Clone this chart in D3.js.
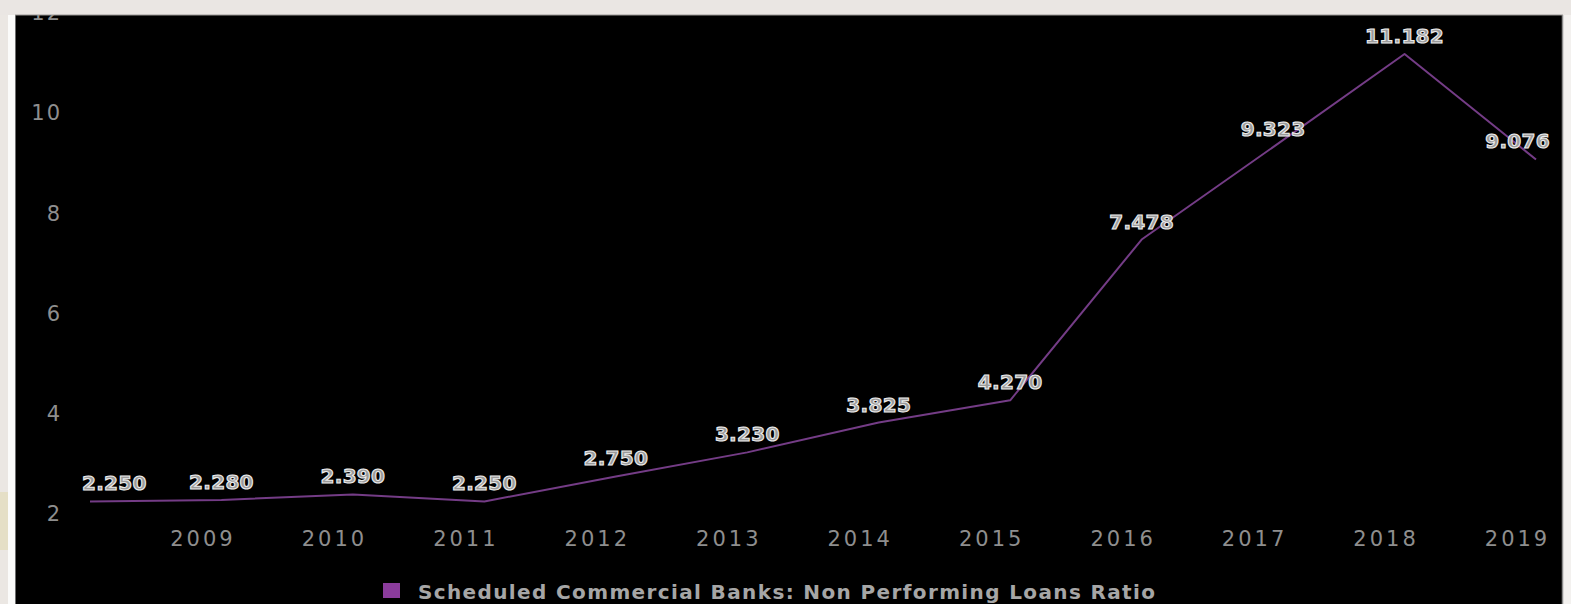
<!DOCTYPE html>
<html>
<head>
<meta charset="utf-8">
<script src="https://cdn.jsdelivr.net/npm/d3@7/dist/d3.min.js"></script>
<style>
  html, body { margin: 0; padding: 0; background: #f3f1ef; }
  svg { display: block; }
</style>
</head>
<body>
<svg id="chart" width="1571" height="604"></svg>
<script>
// Scheduled Commercial Banks: Non Performing Loans Ratio (%)
const years = [2008, 2009, 2010, 2011, 2012, 2013, 2014, 2015, 2016, 2017, 2018, 2019];
const npaRatio = [2.250, 2.280, 2.390, 2.250, 2.750, 3.230, 3.825, 4.270, 7.478, 9.323, 11.182, 9.076];
const valueLabels = ["2.250", "2.280", "2.390", "2.250", "2.750", "3.230", "3.825", "4.270", "7.478", "9.323", "11.182", "9.076"];
const yTickValues = [2, 4, 6, 8, 10, 12];
const xTickYears = [2009, 2010, 2011, 2012, 2013, 2014, 2015, 2016, 2017, 2018, 2019];
const seriesName = "Scheduled Commercial Banks: Non Performing Loans Ratio";

const W = 1571, H = 604;
const svg = d3.select("#chart");

// page frame around the dark panel
svg.append("rect").attr("x", 0).attr("y", 0).attr("width", W).attr("height", H).attr("fill", "#f3f1ef");
svg.append("rect").attr("x", 0).attr("y", 0).attr("width", 8).attr("height", H).attr("fill", "#ebe7e3");
svg.append("rect").attr("x", 0).attr("y", 492).attr("width", 8).attr("height", 58).attr("fill", "#e5dfc6");
svg.append("rect").attr("x", 8).attr("y", 15).attr("width", 8).attr("height", H).attr("fill", "#fbfbfa");

// dark panel
const panel = { left: 16, top: 15, right: 1562, bottom: H };
svg.append("rect")
  .attr("x", panel.left).attr("y", panel.top)
  .attr("width", panel.right - panel.left).attr("height", panel.bottom - panel.top)
  .attr("fill", "#000");
svg.append("line").attr("x1", 15.5).attr("x2", 15.5).attr("y1", 15).attr("y2", H)
  .attr("stroke", "#6d6d6d").attr("stroke-width", 1);
svg.append("line").attr("x1", 1562.5).attr("x2", 1562.5).attr("y1", 15).attr("y2", H)
  .attr("stroke", "#8a8a8a").attr("stroke-width", 1.5);

const g = svg.append("g");

const x = d3.scaleLinear().domain([2008, 2019]).range([90, 1536]);
const y = d3.scaleLinear().domain([2, 12]).range([514, 13]);

// y axis labels
const yAxis = g.append("g")
  .attr("transform", "translate(62,0)")
  .call(d3.axisLeft(y).tickValues(yTickValues).tickSize(0).tickPadding(0).tickFormat(d3.format("d")));
yAxis.select(".domain").remove();
yAxis.selectAll("text")
  .attr("fill", "#8e8e8e")
  .attr("font-family", "DejaVu Sans, sans-serif")
  .attr("font-size", 21)
  .attr("letter-spacing", 2);

// x axis labels
const xAxis = g.append("g")
  .attr("transform", "translate(0,531)")
  .call(d3.axisBottom(x).tickValues(xTickYears).tickSize(0).tickPadding(0).tickFormat(d3.format("d")));
xAxis.select(".domain").remove();
xAxis.selectAll("text")
  .attr("fill", "#8e8e8e")
  .attr("font-family", "DejaVu Sans, sans-serif")
  .attr("font-size", 21)
  .attr("letter-spacing", 3)
  .attr("dx", -19);

// series line
const data = years.map((yr, i) => ({ year: yr, value: npaRatio[i], label: valueLabels[i] }));
const line = d3.line()
  .x(d => x(d.year))
  .y(d => y(d.value));

g.append("path")
  .datum(data)
  .attr("d", line)
  .attr("fill", "none")
  .attr("stroke", "#743c86")
  .attr("stroke-width", 2)
  .attr("stroke-linejoin", "round");

// value labels, kept inside the plot area
const plotLeft = 82, plotRight = 1550;
const labels = g.append("g").selectAll("text")
  .data(data)
  .join("text")
  .text(d => d.label)
  .attr("font-family", "DejaVu Sans, sans-serif")
  .attr("font-weight", "bold")
  .attr("font-size", 20)
  .attr("letter-spacing", 0.3)
  .attr("fill", "#9a9a9a")
  .attr("stroke", "#ececec")
  .attr("stroke-width", 1.1)
  .attr("text-anchor", "middle")
  .attr("y", d => y(d.value) - 11);

labels.each(function(d) {
  const w = this.getComputedTextLength();
  const cx = Math.max(plotLeft + w / 2, Math.min(plotRight - w / 2, x(d.year)));
  d3.select(this).attr("x", cx);
});

// legend
const legend = g.append("g");
legend.append("rect")
  .attr("x", 383).attr("y", 583).attr("width", 17).attr("height", 15)
  .attr("fill", "#8b3c9c");
legend.append("text")
  .attr("x", 418).attr("y", 599)
  .attr("font-family", "DejaVu Sans, sans-serif")
  .attr("font-weight", "bold")
  .attr("font-size", 20)
  .attr("fill", "#a6a6a6")
  .attr("textLength", 737)
  .attr("lengthAdjust", "spacing")
  .text(seriesName);

// top band (covers the upper part of the "12" label)
svg.append("rect").attr("x", 0).attr("y", 0).attr("width", W).attr("height", 15).attr("fill", "#eae6e3");
svg.append("line").attr("x1", 15).attr("x2", 1563).attr("y1", 15).attr("y2", 15)
  .attr("stroke", "#9a9794").attr("stroke-width", 1);
</script>
</body>
</html>
